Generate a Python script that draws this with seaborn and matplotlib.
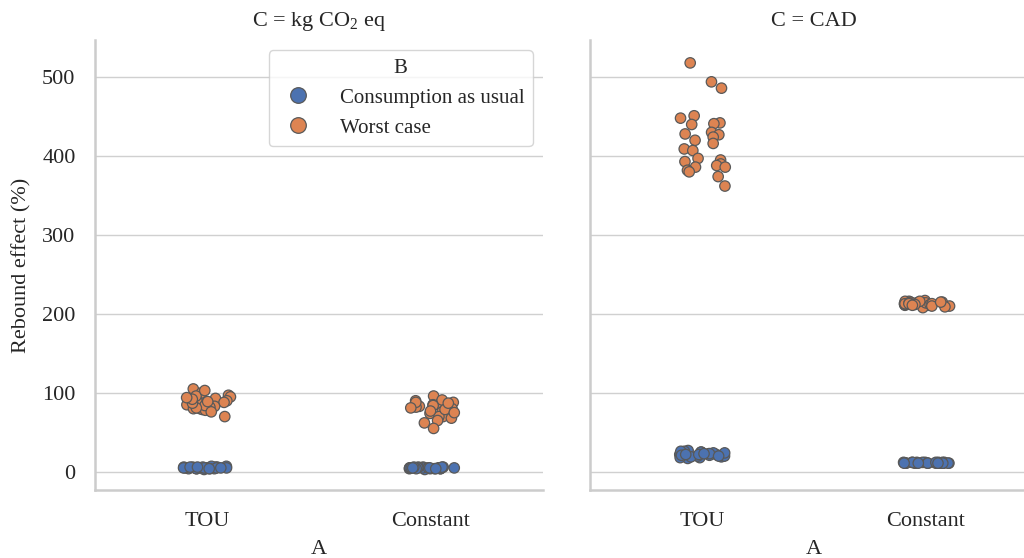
import numpy as np
import pandas as pd
import matplotlib
matplotlib.use("Agg")
import matplotlib.pyplot as plt
import seaborn as sns

np.random.seed(3)

# ---- data ----
categories_A = ["TOU", "Constant"]
hue_B = ["Consumption as usual", "Worst case"]
panels_C = ["kg CO$_2$ eq", "CAD"]

co2_tou_usual = [5, 6, 4, 5, 7, 5, 4, 6, 5, 3, 6, 5, 4, 5, 6, 7, 5, 4, 5, 6, 4, 5, 5, 6, 4, 5, 6]
co2_tou_worst = [105, 100, 97, 95, 93, 90, 88, 86, 85, 83, 82, 80, 80, 79, 78, 88, 91, 84, 70,
                 76, 81, 96, 103, 87, 92, 89, 94]
co2_const_usual = [4, 5, 5, 6, 4, 5, 3, 5, 6, 4, 5, 5, 4, 6, 5, 5, 4, 5, 6, 5, 4, 5, 5, 4, 6, 5, 5]
co2_const_worst = [96, 90, 88, 86, 85, 84, 83, 80, 78, 76, 74, 72, 70, 70, 68, 65, 62, 55, 82,
                   88, 91, 79, 75, 87, 84, 81, 77]
cad_tou_usual = [20, 22, 25, 18, 27, 21, 24, 19, 23, 26, 20, 22, 17, 24, 21, 25, 19, 23, 20, 22,
                 26, 18, 21, 24, 23, 20, 22]
cad_tou_worst = [518, 494, 486, 451, 448, 442, 440, 441, 428, 430, 427, 424, 420, 416, 409, 407,
                 397, 395, 393, 390, 388, 386, 386, 382, 380, 374, 362]
cad_const_usual = [11, 12, 11, 11, 12, 11, 12, 11, 11, 12, 11, 12, 11, 11, 12, 11, 11, 12, 11, 12,
                   11, 11, 12, 11, 12, 11, 11]
cad_const_worst = [214, 212, 216, 210, 213, 215, 211, 217, 213, 209, 214, 212, 216, 211, 213, 215,
                   208, 214, 212, 213, 216, 210, 214, 212, 215, 213, 211]

def make_df(tou_u, tou_w, con_u, con_w):
    rows = []
    for a, b, vals in [("TOU", hue_B[0], tou_u), ("TOU", hue_B[1], tou_w),
                       ("Constant", hue_B[0], con_u), ("Constant", hue_B[1], con_w)]:
        for v in vals:
            rows.append({"A": a, "B": b, "val": v})
    return pd.DataFrame(rows)

dfs = [make_df(co2_tou_usual, co2_tou_worst, co2_const_usual, co2_const_worst),
       make_df(cad_tou_usual, cad_tou_worst, cad_const_usual, cad_const_worst)]

# ---- style ----
sns.set_theme(style="whitegrid", font_scale=1.5)
plt.rcParams["font.family"] = ["Liberation Serif", "DejaVu Serif"]
plt.rcParams["mathtext.fontset"] = "custom"
plt.rcParams["mathtext.rm"] = "Liberation Serif"
plt.rcParams["mathtext.it"] = "Liberation Serif:italic"
plt.rcParams["axes.edgecolor"] = "#cccccc"
plt.rcParams["grid.color"] = "#d0d0d0"

fig = plt.figure(figsize=(10.24, 5.58), dpi=100)
W, H = 1024, 558
ax1 = fig.add_axes([95 / W, 68 / H, 448 / W, 450 / H])
ax2 = fig.add_axes([590 / W, 68 / H, 448 / W, 450 / H], sharey=ax1)

palette = sns.color_palette("deep")[:2]
for ax, df, c in zip([ax1, ax2], dfs, panels_C):
    sns.stripplot(data=df, x="A", y="val", hue="B", order=categories_A, hue_order=hue_B,
                  palette=palette, size=7.5, linewidth=0.9, edgecolor="0.35",
                  jitter=0.11, ax=ax, legend=(ax is ax1))
    ax.set_title(f"C = {c}", fontsize=16, pad=10)
    ax.set_xlabel("A", fontsize=16, labelpad=6)
    ax.tick_params(axis="x", labelsize=16, length=0, pad=16)
    ax.tick_params(axis="y", labelsize=16, length=0, pad=14)
    ax.spines["top"].set_visible(False)
    ax.spines["right"].set_visible(False)
    ax.spines["left"].set_linewidth(1.8)
    ax.spines["bottom"].set_linewidth(1.8)
    ax.grid(axis="x", visible=False)

ax1.set_ylabel("Rebound effect (%)", fontsize=16, labelpad=8)
ax2.set_ylabel("")
ax2.tick_params(axis="y", labelleft=False)
ax1.set_ylim(-23, 547)
ax1.set_yticks([0, 100, 200, 300, 400, 500])

handles, labels = ax1.get_legend_handles_labels()
ax1.legend(handles, labels, title="B", loc="upper right", fontsize=15, title_fontsize=15,
           frameon=True, handletextpad=1.0, borderaxespad=0.5, markerscale=1.5,
           edgecolor="#cccccc")

fig.savefig("out.png", dpi=100)
